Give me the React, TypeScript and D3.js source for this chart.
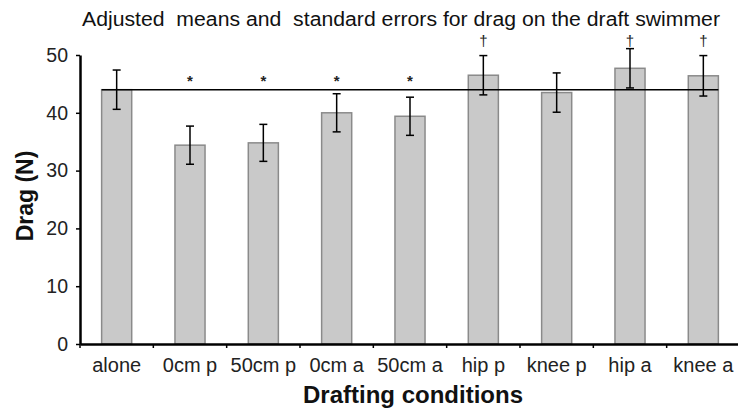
import * as d3 from 'd3'
import { useEffect, useRef } from 'react'

// adjusted means (N) and standard errors
const conditions = ['alone', '0cm p', '50cm p', '0cm a', '50cm a', 'hip p', 'knee p', 'hip a', 'knee a']
const means = [44.0, 34.4, 34.8, 40.0, 39.4, 46.5, 43.5, 47.7, 46.4]
const errors = [3.4, 3.3, 3.2, 3.3, 3.3, 3.4, 3.4, 3.4, 3.5]
const markers = ['', '*', '*', '*', '*', '†', '', '†', '†']
const yTicks = [0, 10, 20, 30, 40, 50]
const baseline = 44.0

export default function App() {
  const svgRef = useRef<SVGSVGElement | null>(null)

  useEffect(() => {
    if (!svgRef.current) return
    const svg = d3.select(svgRef.current)
    svg.selectAll('*').remove()

    const left = 80
    const right = 740
    const top = 55
    const bottom = 344

    const x = d3.scaleBand().domain(conditions).range([left, right]).paddingInner(0.59).paddingOuter(0.295)
    const y = d3.scaleLinear().domain([0, 50]).range([bottom, top])

    const font = '"Liberation Sans", Arial, sans-serif'

    svg.append('text')
      .attr('x', 82)
      .attr('y', 26)
      .attr('textLength', 638)
      .attr('lengthAdjust', 'spacingAndGlyphs')
      .style('white-space', 'pre')
      .attr('font-family', font)
      .attr('font-size', 20)
      .attr('fill', '#111')
      .text('Adjusted  means and  standard errors for drag on the draft swimmer')

    // bars
    svg.append('g')
      .selectAll('rect')
      .data(conditions)
      .join('rect')
      .attr('x', (d) => x(d)!)
      .attr('y', (d, i) => y(means[i]))
      .attr('width', x.bandwidth())
      .attr('height', (d, i) => bottom - y(means[i]))
      .attr('fill', '#c9c9c9')
      .attr('stroke', '#8a8a8a')
      .attr('stroke-width', 1.5)

    // reference line at the 'alone' mean
    svg.append('line')
      .attr('x1', x(conditions[0])!)
      .attr('x2', x(conditions[conditions.length - 1])! + x.bandwidth())
      .attr('y1', y(baseline))
      .attr('y2', y(baseline))
      .attr('stroke', '#000')
      .attr('stroke-width', 1.5)

    // error bars
    const eb = svg.append('g').attr('stroke', '#000').attr('stroke-width', 1.5)
    conditions.forEach((c, i) => {
      const cx = x(c)! + x.bandwidth() / 2
      const y1 = y(means[i] + errors[i])
      const y2 = y(means[i] - errors[i])
      eb.append('line').attr('x1', cx).attr('x2', cx).attr('y1', y1).attr('y2', y2)
      eb.append('line').attr('x1', cx - 4).attr('x2', cx + 4).attr('y1', y1).attr('y2', y1)
      eb.append('line').attr('x1', cx - 4).attr('x2', cx + 4).attr('y1', y2).attr('y2', y2)
    })

    // significance markers
    svg.append('g')
      .selectAll('text')
      .data(conditions)
      .join('text')
      .attr('x', (d) => x(d)! + x.bandwidth() / 2)
      .attr('y', (d, i) => (markers[i] === '*' ? y(44.6) : y(51.6)))
      .attr('text-anchor', 'middle')
      .attr('font-family', font)
      .attr('font-size', (d, i) => (markers[i] === '*' ? 15 : 15))
      .attr('font-weight', (d, i) => (markers[i] === '*' ? 'bold' : 'normal'))
      .attr('fill', '#222')
      .text((d, i) => markers[i])

    // y axis
    const yAxis = svg.append('g')
      .attr('transform', `translate(${left},0)`)
      .call(d3.axisLeft(y).tickValues(yTicks).tickSize(4).tickSizeOuter(0))
    yAxis.select('.domain').attr('stroke-width', 2.5)
    yAxis.selectAll('.tick line').attr('stroke-width', 1.5)
    yAxis.selectAll('.tick text')
      .attr('font-family', font)
      .attr('font-size', 19.5)
      .attr('fill', '#222')
      .attr('x', -12)

    // x axis: ticks sit on the band boundaries
    const xAxis = svg.append('g')
      .attr('transform', `translate(0,${bottom})`)
      .call(d3.axisBottom(x).tickSize(0).tickSizeOuter(0))
    xAxis.select('.domain').attr('stroke-width', 2.5)
    xAxis.selectAll('.tick text')
      .attr('font-family', font)
      .attr('font-size', 20)
      .attr('fill', '#222')
      .attr('dy', 0)
      .attr('y', 28)
    xAxis.selectAll('.bound')
      .data(d3.range(conditions.length + 1).map((i) => left + i * x.step()))
      .join('line')
      .attr('class', 'bound')
      .attr('x1', (d) => d)
      .attr('x2', (d) => d)
      .attr('y1', 0)
      .attr('y2', 4)
      .attr('stroke', '#000')
      .attr('stroke-width', 1.5)

    svg.append('text')
      .attr('transform', `translate(33,196) rotate(-90)`)
      .attr('text-anchor', 'middle')
      .attr('font-family', font)
      .attr('font-weight', 'bold')
      .attr('font-size', 23)
      .attr('fill', '#111')
      .text('Drag (N)')

    svg.append('text')
      .attr('x', 413)
      .attr('y', 403)
      .attr('text-anchor', 'middle')
      .attr('font-family', font)
      .attr('font-weight', 'bold')
      .attr('font-size', 24)
      .attr('fill', '#111')
      .text('Drafting conditions')
  }, [])

  return (
    <svg
      ref={svgRef}
      width={738}
      height={409}
      style={{ position: 'absolute', left: 0, top: 0, background: '#fff' }}
    />
  )
}
